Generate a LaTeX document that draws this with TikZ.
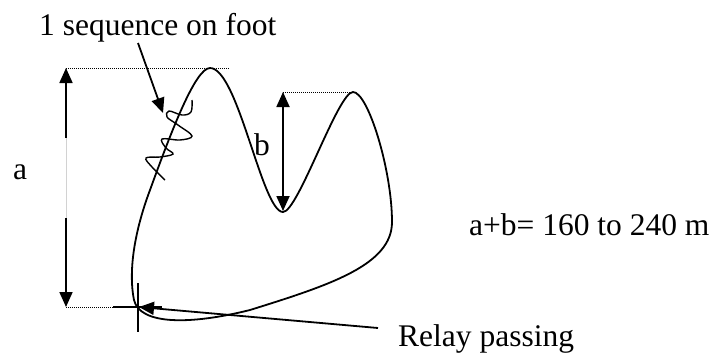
\documentclass[tikz,border=0pt]{standalone}
\usepackage{fontspec}
\setmainfont{Liberation Serif}
\usetikzlibrary{arrows.meta}
\begin{document}
\begin{tikzpicture}[x=1pt,y=-1pt,
  lbl/.style={anchor=base west, inner sep=0pt, font=\fontsize{31.5}{37}\selectfont},
  curve/.style={line width=1.8pt},
  arr/.style={line width=1.8pt, -{Triangle[length=15pt,width=13pt]}},
  darr/.style={line width=1.8pt, {Triangle[length=15pt,width=13pt]}-{Triangle[length=15pt,width=13pt]}},
  dots/.style={line width=1pt, dash pattern=on 1pt off 1pt},
  ]
\useasboundingbox (0,0) rectangle (715,354);
% labels
\node[lbl] (seq) at (39,35) {1 sequence on foot};
\node[lbl] (la) at (13,179) {a};
\node[lbl] (lb) at (254,155) {b};
\node[lbl] (sum) at (469,235) {a+b= 160 to 240 m};
\node[lbl] (relay) at (398,346) {Relay passing};
% coordinates
\coordinate (atop) at (66,68);
\coordinate (aup) at (66,138);
\coordinate (alow) at (66,218);
\coordinate (abot) at (66,307);
\coordinate (peak1) at (210,68);
\coordinate (dot1end) at (230,68);
\coordinate (btop) at (283,92);
\coordinate (bbot) at (283,211);
\coordinate (dot2end) at (350,92);
\coordinate (crossL) at (113,307);
\coordinate (crossR) at (162,307);
\coordinate (crossT) at (138,283);
\coordinate (crossB) at (138,332);
\coordinate (relaytip) at (139,307);
\coordinate (relaystart) at (378,328);
\coordinate (seqstart) at (138,43);
\coordinate (seqtip) at (163,113);
% dotted guide lines
\draw[dots] (atop) -- (dot1end);
\draw[dots] (btop) -- (dot2end);
\draw[dots] (abot) -- (crossL);
% dimension a
\draw[arr] (aup) -- (atop);
\draw[gray!35, line width=0.6pt] (aup) -- (alow);
\draw[arr] (alow) -- (abot);
% dimension b
\draw[darr] (btop) -- (bbot);
% course
\draw[curve] (150,190) .. controls (170,135) and (195,68) .. (peak1)
 .. controls (238,68) and (262,212) .. (283,212)
 .. controls (298,212) and (338,92) .. (353,92)
 .. controls (368,92) and (392,170) .. (392,222)
 .. controls (392,265) and (330,285) .. (250,310)
 .. controls (190,325) and (140,325) .. (134,300)
 .. controls (128,270) and (135,230) .. (150,190) -- cycle;
% squiggle (sequence on foot)
\draw[line width=1.4pt] plot[smooth, tension=0.6] coordinates {(192,100) (191,112) (182,115) (169,111) (167,117) (178,125) (192,136) (180,140) (162,139) (166,148) (173,154) (160,157) (146,158) (152,167) (165,180)};
% relay cross
\draw[curve] (crossL) -- (crossR);
\draw[curve] (crossT) -- (crossB);
% pointer arrows
\draw[arr] (relaystart) -- (relaytip);
\draw[arr] (seqstart) -- (seqtip);
\end{tikzpicture}
\end{document}
